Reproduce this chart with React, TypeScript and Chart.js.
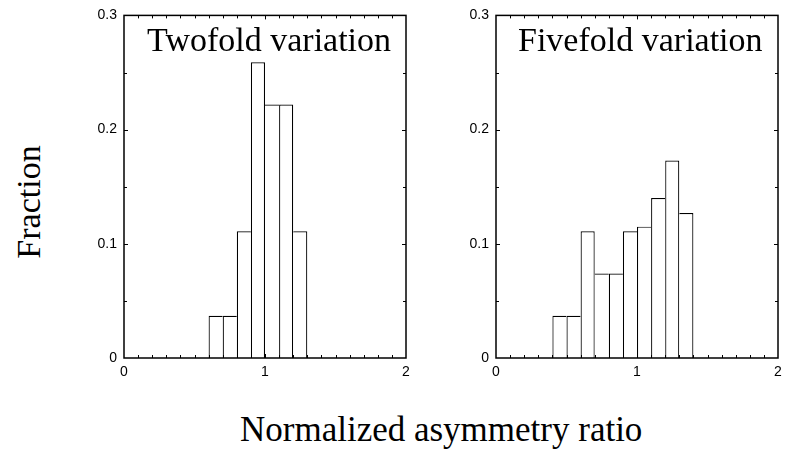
import React, { useEffect, useRef } from "react";
import { Chart, registerables } from "chart.js";

Chart.register(...registerables);

// ---- data ----
const TWOFOLD_TITLE = "Twofold variation";
const TWOFOLD_BIN_CENTERS = [0.65, 0.75, 0.85, 0.95, 1.05, 1.15, 1.25];
const TWOFOLD_FRACTIONS = [0.037, 0.037, 0.111, 0.259, 0.222, 0.222, 0.111];

const FIVEFOLD_TITLE = "Fivefold variation";
const FIVEFOLD_BIN_CENTERS = [0.45, 0.55, 0.65, 0.75, 0.85, 0.95, 1.05, 1.15, 1.25, 1.35];
const FIVEFOLD_FRACTIONS = [0.037, 0.037, 0.111, 0.074, 0.074, 0.111, 0.115, 0.14, 0.173, 0.127];

const X_TICK_LABELS = ["0", "1", "2"];
const Y_TICK_LABELS = ["0", "0.1", "0.2", "0.3"];
const Y_AXIS_TITLE = "Fraction";
const X_AXIS_TITLE = "Normalized asymmetry ratio";

const CANVAS_W = 336;
const CANVAS_H = 388;
const SERIF = '"Liberation Serif", "Times New Roman", serif';
const SANS = '"Liberation Sans", Arial, sans-serif';

const framePlugin = {
  id: "frameTicks",
  afterDatasetsDraw(chart: any) {
    const { ctx, chartArea } = chart;
    const { left, right, top, bottom } = chartArea;
    const xs = chart.scales.x;
    const ys = chart.scales.y;
    ctx.save();
    ctx.strokeStyle = "#000";
    ctx.lineWidth = 1;
    ctx.beginPath();
    for (let i = 1; i < 20; i++) {
      const px = Math.round(xs.getPixelForValue(i / 10)) + 0.5;
      const len = i % 10 === 0 ? 4 : 3;
      ctx.moveTo(px, bottom);
      ctx.lineTo(px, bottom - len);
      ctx.moveTo(px, top);
      ctx.lineTo(px, top + len);
    }
    for (let i = 1; i < 6; i++) {
      const py = Math.round(ys.getPixelForValue(i * 0.05)) + 0.5;
      const len = i % 2 === 0 ? 4 : 3;
      ctx.moveTo(left, py);
      ctx.lineTo(left + len, py);
      ctx.moveTo(right, py);
      ctx.lineTo(right - len, py);
    }
    ctx.stroke();
    ctx.lineWidth = 1.5;
    ctx.strokeRect(left, top, right - left, bottom - top);
    ctx.restore();
  },
};

function Panel({ centers, values, left }: { centers: number[]; values: number[]; left: number }) {
  const ref = useRef<HTMLCanvasElement | null>(null);
  useEffect(() => {
    if (!ref.current) return;
    const data = centers.map((c, i) => ({ x: c, y: values[i] }));
    const chart = new Chart(ref.current, {
      type: "bar",
      data: {
        datasets: [
          {
            data,
            backgroundColor: "#ffffff",
            borderColor: "#000000",
            borderWidth: (ctx: any) => {
              const i = ctx.dataIndex;
              const h = values[i];
              const prev = i > 0 ? values[i - 1] : -1;
              const next = i < values.length - 1 ? values[i + 1] : -1;
              return {
                top: 1.2,
                bottom: 0,
                left: h >= prev ? 1.2 : 0,
                right: h > next ? 1.2 : 0,
              };
            },
            borderSkipped: "start",
            barPercentage: 1,
            categoryPercentage: 1,
            inflateAmount: 0,
          } as any,
        ],
      },
      options: {
        responsive: false,
        animation: false,
        devicePixelRatio: 1,
        layout: { padding: { top: 15, right: 10, left: 0, bottom: 0 } },
        plugins: { legend: { display: false }, tooltip: { enabled: false }, title: { display: false } },
        scales: {
          x: {
            type: "linear",
            min: 0,
            max: 2,
            offset: false,
            grid: { display: false, offset: false, drawTicks: false, tickLength: 0 },
            border: { display: false },
            ticks: {
              stepSize: 1,
              autoSkip: false,
              maxRotation: 0,
              padding: 6,
              color: "#000",
              font: { family: SANS, size: 14 },
              callback: (_v: any, i: number) => X_TICK_LABELS[i],
            },
            afterFit: (s: any) => {
              s.height = 30;
            },
          },
          y: {
            type: "linear",
            min: 0,
            max: 0.3,
            grid: { display: false, drawTicks: false, tickLength: 0 },
            border: { display: false },
            ticks: {
              stepSize: 0.1,
              autoSkip: false,
              padding: 7,
              color: "#000",
              font: { family: SANS, size: 14 },
              callback: (_v: any, i: number) => Y_TICK_LABELS[i],
            },
            afterFit: (s: any) => {
              s.width = 44;
            },
          },
        },
      } as any,
      plugins: [framePlugin],
    });
    return () => chart.destroy();
  }, [centers, values]);
  return (
    <canvas
      ref={ref}
      width={CANVAS_W}
      height={CANVAS_H}
      style={{ position: "absolute", left, top: 0, width: CANVAS_W, height: CANVAS_H, display: "block" }}
    />
  );
}

const textStyle: React.CSSProperties = {
  position: "absolute",
  fontFamily: SERIF,
  fontSize: 34,
  lineHeight: "34px",
  color: "#000",
  whiteSpace: "nowrap",
};

export default function App() {
  return (
    <div style={{ position: "absolute", left: 0, top: 0, width: 787, height: 450, background: "#fff", overflow: "hidden" }}>
      <Panel centers={TWOFOLD_BIN_CENTERS} values={TWOFOLD_FRACTIONS} left={80} />
      <Panel centers={FIVEFOLD_BIN_CENTERS} values={FIVEFOLD_FRACTIONS} left={452} />
      <div style={{ ...textStyle, left: 147, top: 23 }}>{TWOFOLD_TITLE}</div>
      <div style={{ ...textStyle, left: 518, top: 23 }}>{FIVEFOLD_TITLE}</div>
      <div
        style={{
          ...textStyle,
          left: 29 - 100,
          top: 202 - 17,
          width: 200,
          textAlign: "center",
          transform: "rotate(-90deg)",
          transformOrigin: "50% 50%",
        }}
      >
        {Y_AXIS_TITLE}
      </div>
      <div style={{ ...textStyle, left: 240, top: 413, fontSize: 35 }}>{X_AXIS_TITLE}</div>
    </div>
  );
}
